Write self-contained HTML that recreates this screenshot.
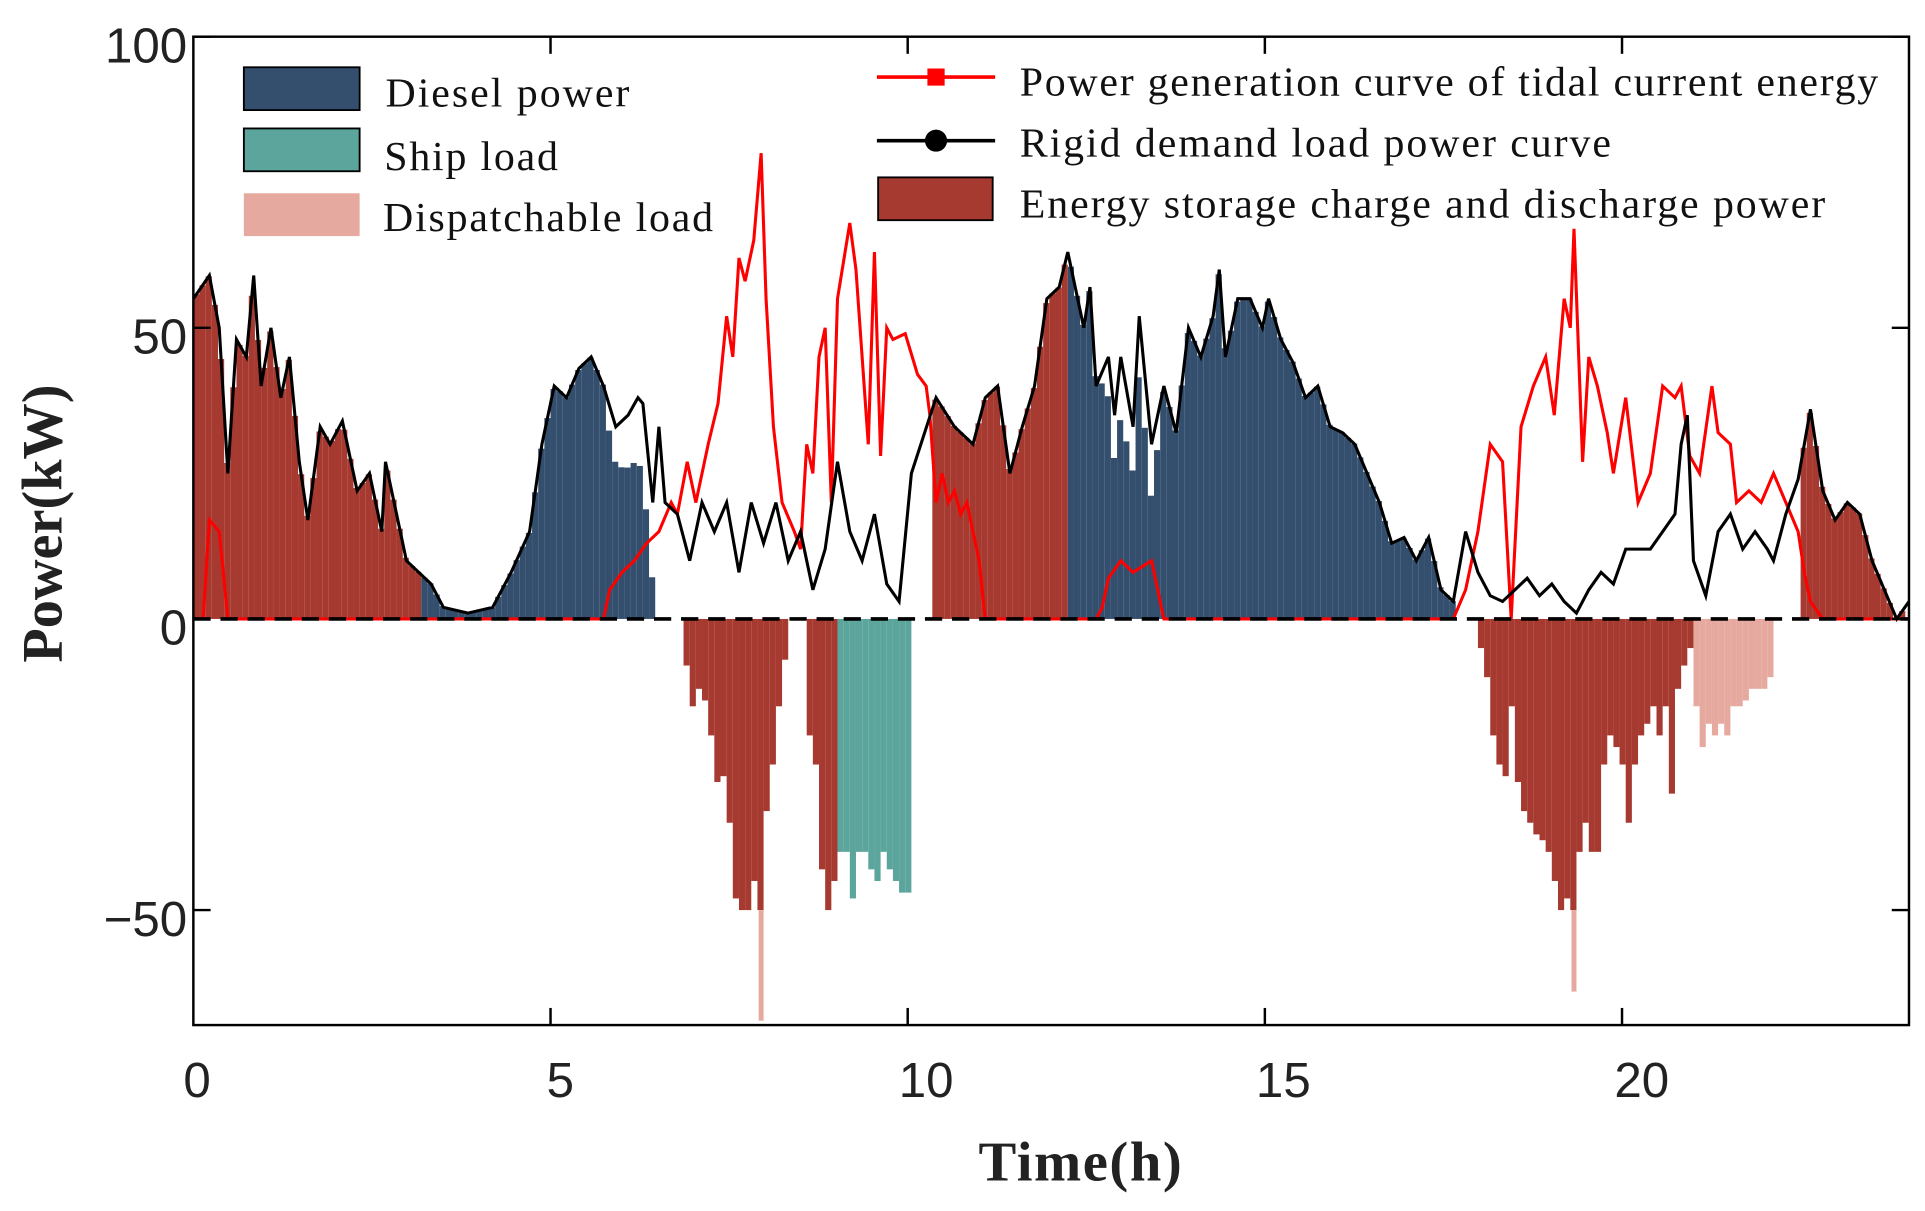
<!DOCTYPE html>
<html><head><meta charset="utf-8"><style>html,body{margin:0;padding:0;background:#fff}svg{display:block}</style></head>
<body>
<svg id="s" width="1925" height="1211" viewBox="0 0 1563 990" preserveAspectRatio="none" xmlns="http://www.w3.org/2000/svg">
<g id="bars"></g>
<g id="lines"></g>
<line x1="157" y1="506" x2="1550" y2="506" stroke="#000" stroke-width="3" stroke-dasharray="14,8"/>
<rect x="157" y="30" width="1393" height="808" fill="none" stroke="#000" stroke-width="2"/>
<g stroke="#000" stroke-width="2">
<line x1="157" y1="30" x2="171" y2="30"/><line x1="157" y1="268" x2="171" y2="268"/><line x1="157" y1="506" x2="171" y2="506"/><line x1="157" y1="744" x2="171" y2="744"/>
<line x1="1550" y1="30" x2="1536" y2="30"/><line x1="1550" y1="268" x2="1536" y2="268"/><line x1="1550" y1="506" x2="1536" y2="506"/><line x1="1550" y1="744" x2="1536" y2="744"/>
<line x1="447" y1="838" x2="447" y2="824"/><line x1="737" y1="838" x2="737" y2="824"/><line x1="1027" y1="838" x2="1027" y2="824"/><line x1="1317" y1="838" x2="1317" y2="824"/>
<line x1="447" y1="30" x2="447" y2="44"/><line x1="737" y1="30" x2="737" y2="44"/><line x1="1027" y1="30" x2="1027" y2="44"/><line x1="1317" y1="30" x2="1317" y2="44"/>
</g>
<g font-family="Liberation Sans, sans-serif" font-size="40" fill="#222" text-anchor="end">
<text x="152" y="51">100</text><text x="152" y="289">50</text><text x="152" y="527">0</text><text x="152" y="765">−50</text>
</g>
<g font-family="Liberation Sans, sans-serif" font-size="40" fill="#222" text-anchor="middle">
<text x="160" y="897">0</text><text x="455" y="897">5</text><text x="752" y="897">10</text><text x="1042" y="897">15</text><text x="1333" y="897">20</text>
</g>
<text x="877" y="965" font-family="Liberation Serif, serif" font-weight="bold" font-size="46" text-anchor="middle" fill="#222" textLength="165">Time(h)</text>
<text transform="translate(50,428) rotate(-90)" font-family="Liberation Serif, serif" font-weight="bold" font-size="46" text-anchor="middle" fill="#222">Power(kW)</text>
<g font-family="Liberation Serif, serif" font-size="34" fill="#111">
<rect x="198" y="55" width="94" height="35" fill="#344f6e" stroke="#000" stroke-width="1.5"/>
<rect x="198" y="105" width="94" height="35" fill="#5ba59c" stroke="#000" stroke-width="1.5"/>
<rect x="198" y="158" width="94" height="35" fill="#e6a99f"/>
<text x="313" y="87" textLength="198">Diesel power</text><text x="312" y="139" textLength="141">Ship load</text><text x="311" y="189" textLength="268">Dispatchable load</text>
<line x1="712" y1="63" x2="808" y2="63" stroke="#f00" stroke-width="3"/><rect x="753" y="56" width="14" height="14" fill="#f00"/>
<line x1="712" y1="115" x2="808" y2="115" stroke="#000" stroke-width="3"/><circle cx="760" cy="115" r="9" fill="#000"/>
<rect x="713" y="145" width="93" height="35" fill="#a63a30" stroke="#000" stroke-width="1.5"/>
<text x="828" y="78" textLength="697">Power generation curve of tidal current energy</text>
<text x="828" y="128" textLength="480">Rigid demand load power curve</text>
<text x="828" y="178" textLength="654">Energy storage charge and discharge power</text>
</g>
</svg>
<script>
const B=[157,55,170,59,178,50,185,25,192,48,200,45,206,59,212,40,220,50,228,38,235,45,243,27,250,17,260,33,268,30,278,34,290,22,300,25,310,15,313,27,320,20,330,10,340,8,350,6,360,2,380,1,400,2,415,8,430,15,440,30,450,40,460,38,470,43,480,45,490,40,500,33,510,35,518,38,522,37,530,20,535,33,540,20,550,18,560,10,570,20,580,15,590,20,600,8,610,20,620,13,630,20,640,10,650,15,660,5,670,12,680,27,690,15,700,10,710,18,720,6,730,3,740,25,760,38,775,33,790,30,800,38,810,40,820,25,830,33,840,40,850,55,860,57,867,63,875,55,880,50,885,57,890,40,900,45,905,35,910,45,920,33,925,52,935,30,945,40,955,32,965,50,975,45,985,52,990,60,995,45,1005,55,1015,55,1025,50,1030,55,1040,48,1050,44,1060,38,1070,40,1080,33,1090,32,1100,30,1110,25,1120,20,1130,13,1140,14,1150,10,1160,14,1170,5,1180,3,1190,15,1200,8,1210,4,1220,3,1230,5,1240,7,1250,4,1260,6,1270,3,1280,1,1290,5,1300,8,1310,6,1320,12,1340,12,1350,15,1360,18,1365,30,1370,35,1375,10,1385,4,1395,15,1405,18,1415,12,1425,15,1435,12,1440,10,1450,18,1460,24,1470,36,1480,22,1490,17,1500,20,1510,18,1520,10,1530,5,1540,0,1550,3];
const R=[157,0,165,0,170,17,178,15,185,0,490,0,495,5,505,8,515,10,525,13,535,15,545,20,550,18,558,27,565,20,575,30,583,37,590,52,595,45,600,62,605,58,612,65,618,80,622,55,628,33,635,20,645,15,650,12,655,30,660,25,665,45,670,50,675,20,680,55,690,68,695,60,700,45,705,30,710,63,715,28,720,50,725,48,735,49,745,42,752,40,755,35,760,20,765,25,770,20,775,22,780,18,785,20,795,10,800,0,890,0,895,2,900,7,910,10,920,8,935,10,945,0,1180,0,1190,5,1200,15,1210,30,1220,27,1227,0,1235,33,1245,40,1255,45,1262,35,1270,55,1275,50,1278,67,1285,27,1290,45,1297,40,1305,32,1310,25,1320,38,1330,20,1340,25,1350,40,1360,38,1365,40,1372,28,1380,25,1390,40,1395,32,1405,30,1410,20,1420,22,1430,20,1440,25,1450,20,1460,15,1465,8,1470,3,1480,0,1550,0];
const N1=[555,-8,560,-15,565,-12,570,-14,575,-20,580,-28,585,-27,590,-35,595,-48,600,-50,605,-50,610,-45,615,-50,620,-33,625,-25,630,-15,635,-7,655,-20,660,-25,665,-43,670,-50,675,-45];
const SH=[680,-40,685,-40,690,-48,695,-40,700,-40,705,-43,710,-45,715,-40,720,-43,725,-45,730,-47,735,-47];
const N2=[1200,-5,1205,-10,1210,-20,1215,-25,1220,-27,1225,-15,1230,-28,1235,-33,1240,-35,1245,-37,1250,-38,1255,-40,1260,-45,1265,-50,1270,-48,1275,-50,1280,-40,1285,-35,1290,-40,1295,-40,1300,-25,1305,-20,1310,-22,1315,-25,1320,-35,1325,-25,1330,-20,1335,-18,1340,-15,1345,-20,1350,-15,1355,-30,1360,-12,1365,-8,1370,-5];
const PK=[1375,-15,1380,-22,1385,-18,1390,-20,1395,-18,1400,-20,1405,-15,1410,-15,1415,-14,1420,-12,1425,-12,1430,-12,1435,-10];
function f(a,x){for(let i=0;i<a.length-2;i+=2){if(x>=a[i]&&x<=a[i+2]){const t=(x-a[i])/(a[i+2]-a[i]);return a[i+1]+t*(a[i+3]-a[i+1]);}}return 0}
const Y=v=>506-v*4.76;
let h='';
function bar(x,v,c){const y=Y(v);h+=`<rect x="${x}" y="${Math.min(y,506)}" width="5" height="${Math.abs(y-506)}" fill="${c}"/>`}
const br='#a63a30',bl='#344f6e';
for(let x=157;x<1548;x+=5){
 const b=f(B,x+2.5),r=f(R,x+2.5);
 if((x<340)||(x>=755&&x<863)||(x>=1462&&x<1545)) bar(x,b,br);
 else if((x>=340&&x<530)||(x>=863&&x<1180)) bar(x,Math.max(0,b-r),bl);
 else if(x>=530&&x<680&&b>r&&(x%15==0)) bar(x,Math.min(5,b-r),bl);
}
for(let i=0;i<N1.length;i+=2)bar(N1[i],N1[i+1],br);
for(let i=0;i<SH.length;i+=2)bar(SH[i],SH[i+1],'#5ba59c');
for(let i=0;i<N2.length;i+=2)bar(N2[i],N2[i+1],br);
for(let i=0;i<PK.length;i+=2)bar(PK[i],PK[i+1],'#e6a99f');
h+=`<rect x="616" y="${Y(-50)}" width="4" height="${(69-50)*4.76}" fill="#e6a99f"/><rect x="1276" y="${Y(-50)}" width="4" height="${(64-50)*4.76}" fill="#e6a99f"/>`;
document.getElementById('bars').innerHTML=h;
const pl=a=>{let p='';for(let i=0;i<a.length;i+=2)p+=a[i]+','+Y(a[i+1]).toFixed(1)+' ';return p};
document.getElementById('lines').innerHTML=`<polyline points="${pl(R)}" fill="none" stroke="#f00" stroke-width="2.5"/><polyline points="${pl(B)}" fill="none" stroke="#000" stroke-width="2.5"/>`;
</script>
</body></html>
